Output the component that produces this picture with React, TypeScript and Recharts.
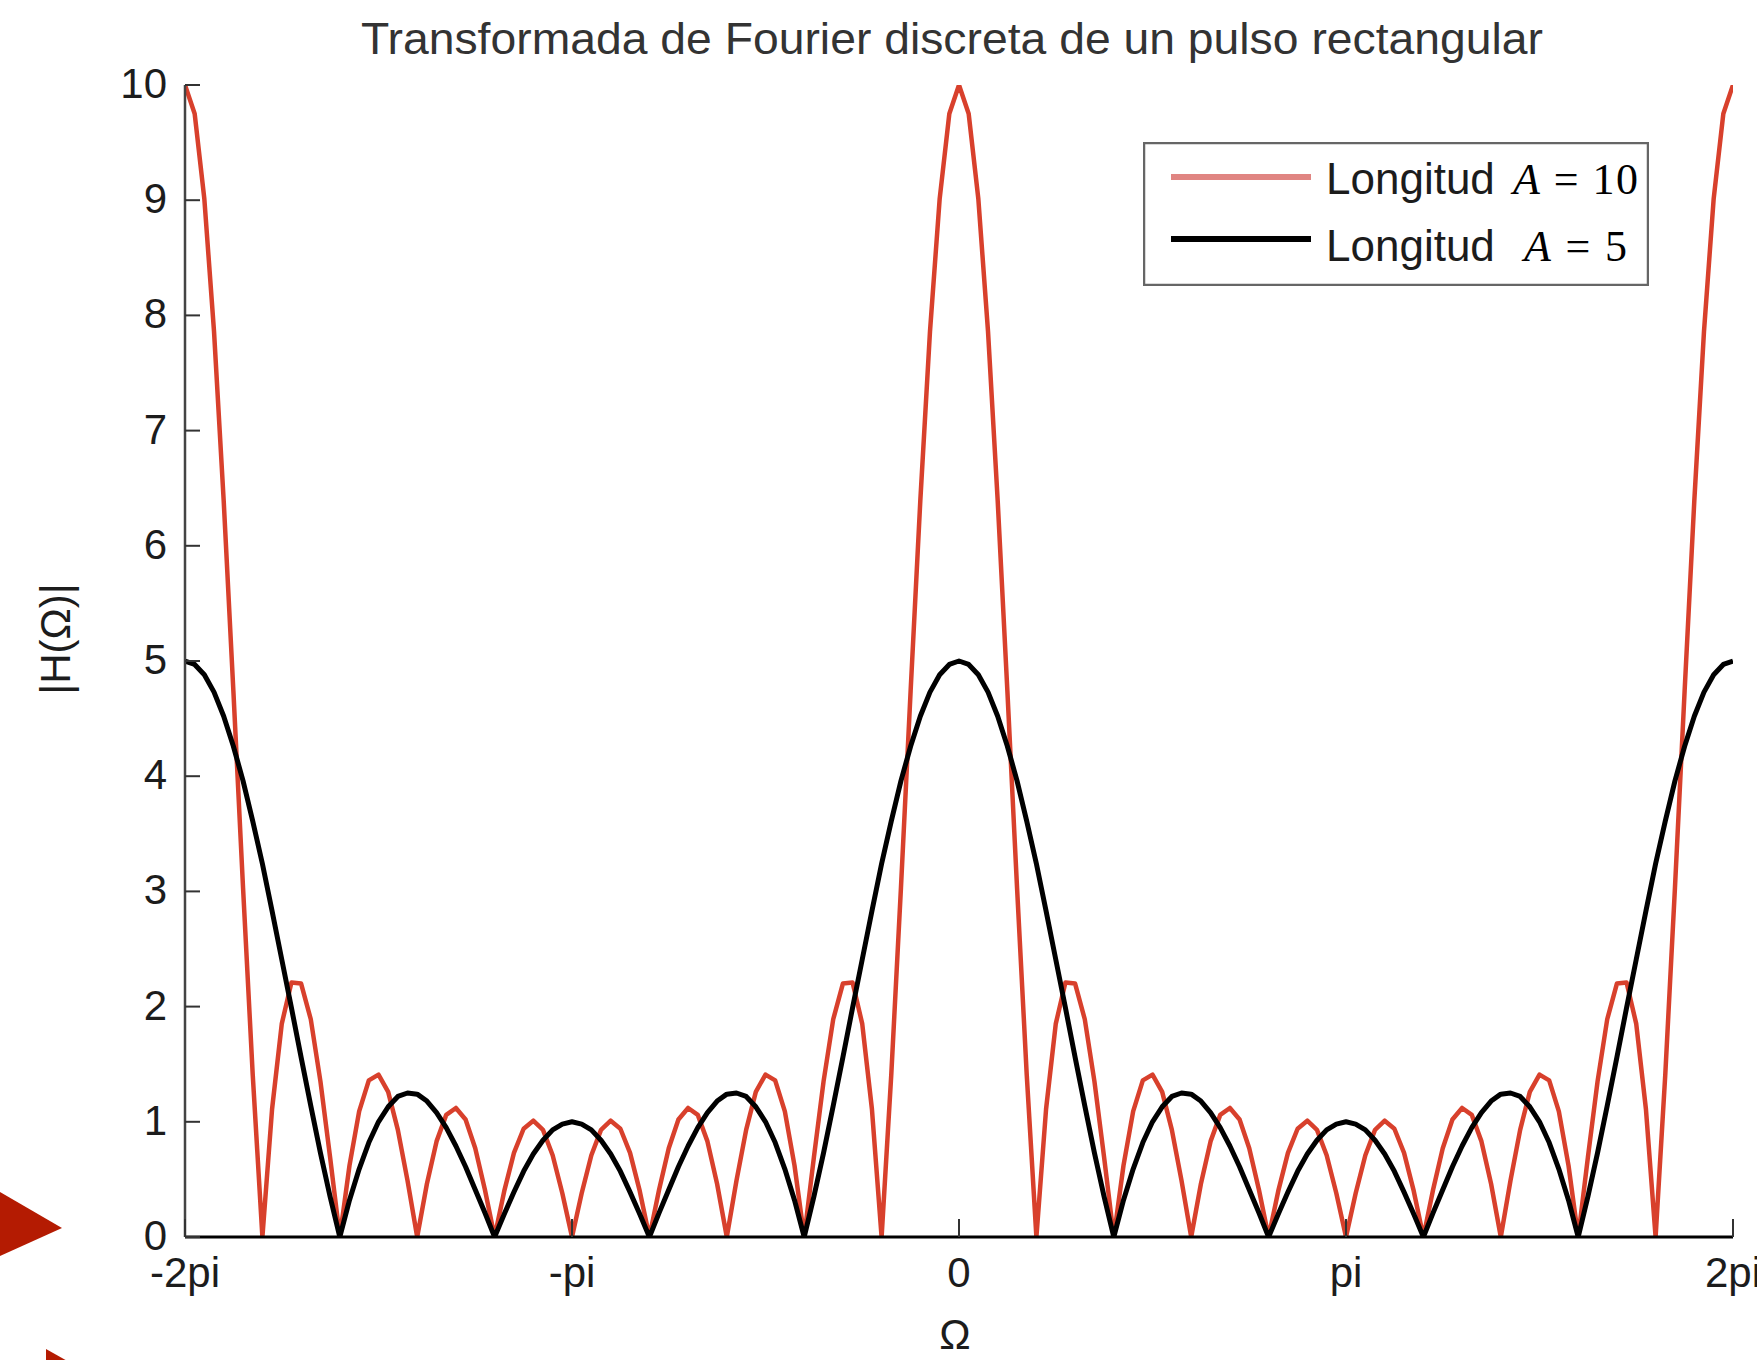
import React from 'react';
import { LineChart, Line, XAxis, YAxis, Legend } from 'recharts';

// Ω in units of π
const OMEGA_PI = [
  -2, -1.975, -1.95, -1.925, -1.9, -1.875, -1.85, -1.825,
  -1.8, -1.775, -1.75, -1.725, -1.7, -1.675, -1.65, -1.625,
  -1.6, -1.575, -1.55, -1.525, -1.5, -1.475, -1.45, -1.425,
  -1.4, -1.375, -1.35, -1.325, -1.3, -1.275, -1.25, -1.225,
  -1.2, -1.175, -1.15, -1.125, -1.1, -1.075, -1.05, -1.025,
  -1, -0.975, -0.95, -0.925, -0.9, -0.875, -0.85, -0.825,
  -0.8, -0.775, -0.75, -0.725, -0.7, -0.675, -0.65, -0.625,
  -0.6, -0.575, -0.55, -0.525, -0.5, -0.475, -0.45, -0.425,
  -0.4, -0.375, -0.35, -0.325, -0.3, -0.275, -0.25, -0.225,
  -0.2, -0.175, -0.15, -0.125, -0.1, -0.075, -0.05, -0.025,
  0, 0.025, 0.05, 0.075, 0.1, 0.125, 0.15, 0.175,
  0.2, 0.225, 0.25, 0.275, 0.3, 0.325, 0.35, 0.375,
  0.4, 0.425, 0.45, 0.475, 0.5, 0.525, 0.55, 0.575,
  0.6, 0.625, 0.65, 0.675, 0.7, 0.725, 0.75, 0.775,
  0.8, 0.825, 0.85, 0.875, 0.9, 0.925, 0.95, 0.975,
  1, 1.025, 1.05, 1.075, 1.1, 1.125, 1.15, 1.175,
  1.2, 1.225, 1.25, 1.275, 1.3, 1.325, 1.35, 1.375,
  1.4, 1.425, 1.45, 1.475, 1.5, 1.525, 1.55, 1.575,
  1.6, 1.625, 1.65, 1.675, 1.7, 1.725, 1.75, 1.775,
  1.8, 1.825, 1.85, 1.875, 1.9, 1.925, 1.95, 1.975,
  2,
];

// |H(Ω)| for pulse length A = 10 (red)
const H_LEN10 = [
  10, 9.75, 9.01, 7.86, 6.39, 4.74, 3.03, 1.41,
  0, 1.11, 1.85, 2.21, 2.2, 1.89, 1.35, 0.69,
  0, 0.62, 1.09, 1.36, 1.41, 1.26, 0.93, 0.49,
  0, 0.46, 0.83, 1.06, 1.12, 1.02, 0.77, 0.41,
  0, 0.4, 0.73, 0.94, 1.01, 0.93, 0.71, 0.38,
  0, 0.38, 0.71, 0.93, 1.01, 0.94, 0.73, 0.4,
  0, 0.41, 0.77, 1.02, 1.12, 1.06, 0.83, 0.46,
  0, 0.49, 0.93, 1.26, 1.41, 1.36, 1.09, 0.62,
  0, 0.69, 1.35, 1.89, 2.2, 2.21, 1.85, 1.11,
  0, 1.41, 3.03, 4.74, 6.39, 7.86, 9.01, 9.75,
  10, 9.75, 9.01, 7.86, 6.39, 4.74, 3.03, 1.41,
  0, 1.11, 1.85, 2.21, 2.2, 1.89, 1.35, 0.69,
  0, 0.62, 1.09, 1.36, 1.41, 1.26, 0.93, 0.49,
  0, 0.46, 0.83, 1.06, 1.12, 1.02, 0.77, 0.41,
  0, 0.4, 0.73, 0.94, 1.01, 0.93, 0.71, 0.38,
  0, 0.38, 0.71, 0.93, 1.01, 0.94, 0.73, 0.4,
  0, 0.41, 0.77, 1.02, 1.12, 1.06, 0.83, 0.46,
  0, 0.49, 0.93, 1.26, 1.41, 1.36, 1.09, 0.62,
  0, 0.69, 1.35, 1.89, 2.2, 2.21, 1.85, 1.11,
  0, 1.41, 3.03, 4.74, 6.39, 7.86, 9.01, 9.75,
  10,
];

// |H(Ω)| for pulse length A = 5 (black)
const H_LEN5 = [
  5, 4.97, 4.88, 4.73, 4.52, 4.26, 3.96, 3.61,
  3.24, 2.83, 2.41, 1.99, 1.56, 1.14, 0.73, 0.35,
  0, 0.32, 0.59, 0.82, 1.0, 1.13, 1.22, 1.25,
  1.24, 1.18, 1.08, 0.95, 0.79, 0.61, 0.41, 0.21,
  0, 0.2, 0.39, 0.57, 0.72, 0.84, 0.93, 0.98,
  1.0, 0.98, 0.93, 0.84, 0.72, 0.57, 0.39, 0.2,
  0, 0.21, 0.41, 0.61, 0.79, 0.95, 1.08, 1.18,
  1.24, 1.25, 1.22, 1.13, 1.0, 0.82, 0.59, 0.32,
  0, 0.35, 0.73, 1.14, 1.56, 1.99, 2.41, 2.83,
  3.24, 3.61, 3.96, 4.26, 4.52, 4.73, 4.88, 4.97,
  5, 4.97, 4.88, 4.73, 4.52, 4.26, 3.96, 3.61,
  3.24, 2.83, 2.41, 1.99, 1.56, 1.14, 0.73, 0.35,
  0, 0.32, 0.59, 0.82, 1.0, 1.13, 1.22, 1.25,
  1.24, 1.18, 1.08, 0.95, 0.79, 0.61, 0.41, 0.21,
  0, 0.2, 0.39, 0.57, 0.72, 0.84, 0.93, 0.98,
  1.0, 0.98, 0.93, 0.84, 0.72, 0.57, 0.39, 0.2,
  0, 0.21, 0.41, 0.61, 0.79, 0.95, 1.08, 1.18,
  1.24, 1.25, 1.22, 1.13, 1.0, 0.82, 0.59, 0.32,
  0, 0.35, 0.73, 1.14, 1.56, 1.99, 2.41, 2.83,
  3.24, 3.61, 3.96, 4.26, 4.52, 4.73, 4.88, 4.97,
  5,
];

const X_TICKS = [-2, -1, 0, 1, 2];
const X_TICK_LABELS = ['-2pi', '-pi', '0', 'pi', '2pi'];
const Y_TICKS = [0, 1, 2, 3, 4, 5, 6, 7, 8, 9, 10];

const TITLE = 'Transformada de Fourier discreta de un pulso rectangular';
const X_LABEL = 'Ω';
const Y_LABEL = '|H(Ω)|';

const SERIES = [
  { key: 'len10', label: 'Longitud', math: '10', color: '#D8402C', legendColor: '#E08582', width: 4.5 },
  { key: 'len5', label: 'Longitud', math: '5', color: '#000000', legendColor: '#000000', width: 5 },
];

const data = OMEGA_PI.map((w, i) => ({ w, len10: H_LEN10[i], len5: H_LEN5[i] }));

const FONT = '"Liberation Sans", Arial, Helvetica, sans-serif';
const MATH_FONT = '"Liberation Serif", "DejaVu Serif", serif';
const TXT = '#1c1c1c';
const TICK_STROKE = '#333';

const BottomTick = (props: any) => {
  const { x, y, payload } = props;
  const idx = X_TICKS.indexOf(payload.value);
  return (
    <g>
      <line x1={x} x2={x} y1={y} y2={y - 18} stroke={TICK_STROKE} strokeWidth={2} />
      <text x={x} y={y + 50} textAnchor="middle" fontSize={42} fontFamily={FONT} fill={TXT}>
        {X_TICK_LABELS[idx]}
      </text>
    </g>
  );
};

const TopTick = (props: any) => {
  const { x, y } = props;
  return <line x1={x} x2={x} y1={y} y2={y + 18} stroke={TICK_STROKE} strokeWidth={2} />;
};

const LeftTick = (props: any) => {
  const { x, y, payload } = props;
  return (
    <g>
      <line x1={x} x2={x + 15} y1={y} y2={y} stroke={TICK_STROKE} strokeWidth={2} />
      <text x={x - 18} y={y + 13} textAnchor="end" fontSize={42} fontFamily={FONT} fill={TXT}>
        {payload.value}
      </text>
    </g>
  );
};

const RightTick = (props: any) => {
  const { x, y } = props;
  return <line x1={x} x2={x - 15} y1={y} y2={y} stroke={TICK_STROKE} strokeWidth={2} />;
};

const renderLegend = () => (
  <svg width={506} height={144} style={{ display: 'block' }}>
    <rect x={1} y={1} width={504} height={142} fill="#fff" stroke="#666" strokeWidth={2.5} />
    {SERIES.map((s, i) => {
      const cy = i === 0 ? 35 : 97;
      const ty = i === 0 ? cy + 17 : cy + 22;
      return (
        <g key={s.key}>
          <line x1={28} x2={168} y1={cy} y2={cy} stroke={s.legendColor} strokeWidth={6} />
          <text x={183} y={ty} fontSize={44} fontFamily={FONT} fill={TXT}>
            {s.label}
          </text>
          <text
            x={i === 0 ? 370 : 381}
            y={ty}
            fontSize={44}
            fontFamily={MATH_FONT}
            fill="#000"
            textLength={i === 0 ? 125 : 103}
            lengthAdjust="spacing"
          >
            <tspan fontStyle="italic">A</tspan>
            <tspan> = {s.math}</tspan>
          </text>
        </g>
      );
    })}
  </svg>
);

export default function App() {
  return (
    <div style={{ position: 'absolute', left: 0, top: 0, width: 1757, height: 1360, background: '#fff', overflow: 'hidden' }}>
      <LineChart
        width={1757}
        height={1360}
        data={data}
        margin={{ top: 85, right: 24, bottom: 83, left: 145 }}
      >
        <XAxis
          dataKey="w"
          type="number"
          domain={[-2, 2]}
          ticks={X_TICKS}
          interval={0}
          allowDataOverflow
          height={40}
          tickSize={0}
          tickMargin={0}
          tickLine={false}
          axisLine={{ stroke: '#000', strokeWidth: 3 }}
          tick={BottomTick}
        />
        <XAxis
          xAxisId="top"
          orientation="top"
          dataKey="w"
          type="number"
          domain={[-2, 2]}
          ticks={X_TICKS}
          interval={0}
          allowDataOverflow
          height={0}
          tickSize={0}
          tickMargin={0}
          tickLine={false}
          axisLine={{ stroke: '#000', strokeWidth: 3 }}
          tick={TopTick}
        />
        <YAxis
          type="number"
          domain={[0, 10]}
          ticks={Y_TICKS}
          interval={0}
          allowDataOverflow
          width={40}
          tickSize={0}
          tickMargin={0}
          tickLine={false}
          axisLine={{ stroke: '#444', strokeWidth: 2.5 }}
          tick={LeftTick}
        />
        <YAxis
          yAxisId="right"
          orientation="right"
          type="number"
          domain={[0, 10]}
          ticks={Y_TICKS}
          interval={0}
          allowDataOverflow
          width={0}
          tickSize={0}
          tickMargin={0}
          tickLine={false}
          axisLine={{ stroke: '#000', strokeWidth: 3 }}
          tick={RightTick}
        />
        <Legend
          layout="vertical"
          align="center"
          verticalAlign="middle"
          wrapperStyle={{ left: 1143, top: 142, width: 506, height: 144 }}
          content={renderLegend}
        />
        {SERIES.map((s) => (
          <Line
            key={s.key}
            type="linear"
            dataKey={s.key}
            stroke={s.color}
            strokeWidth={s.width}
            strokeLinejoin="round"
            dot={false}
            activeDot={false}
            isAnimationActive={false}
          />
        ))}
      </LineChart>
      <svg
        width={1757}
        height={1360}
        style={{ position: 'absolute', left: 0, top: 0, pointerEvents: 'none' }}
      >
        <text x={952} y={54} textAnchor="middle" fontSize={44} fontFamily={FONT} fill="#333" textLength={1182} lengthAdjust="spacingAndGlyphs">
          {TITLE}
        </text>
        <text x={955} y={1349} textAnchor="middle" fontSize={42} fontFamily={FONT} fill={TXT}>
          {X_LABEL}
        </text>
        <text
          x={0}
          y={0}
          transform="translate(70 639) rotate(-90)"
          textAnchor="middle"
          fontSize={42}
          fontFamily={FONT}
          fill={TXT}
        >
          {Y_LABEL}
        </text>
        <polygon points="0,1192 62,1228 0,1256" fill="#B41B02" />
        <polygon points="46,1349 46,1420 110,1385" fill="#B41B02" />
      </svg>
    </div>
  );
}
